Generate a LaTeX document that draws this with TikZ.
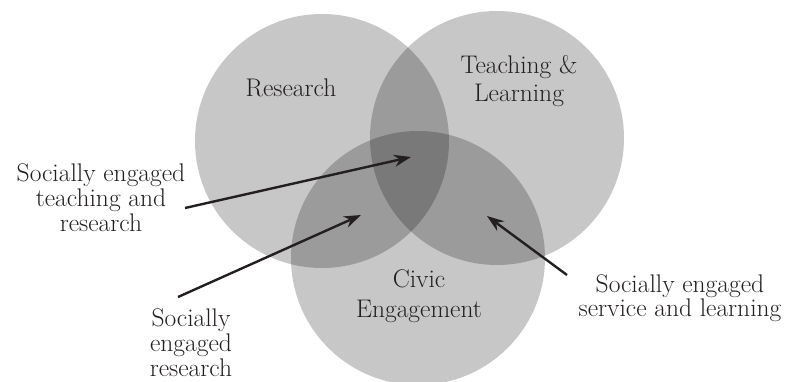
\documentclass[tikz,border=0pt]{standalone}
\usetikzlibrary{arrows.meta}
\definecolor{ink}{HTML}{231F20}
\begin{document}
\begin{tikzpicture}[x=1pt,y=-1pt,
  venn/.style={fill=black,fill opacity=0.22,draw=none},
  lbl/.style={align=center,text=ink,inner sep=0pt},
  sk/.style={font=\fontsize{25.5}{#1}\selectfont},
  ptr/.style={line width=2.4pt,draw=ink,-{Stealth[length=17pt,width=12pt]}}]
\useasboundingbox (0,0) rectangle (788,381);
\fill[venn] (322,141) circle (127);
\fill[venn] (497,138) circle (127);
\fill[venn] (418,258) circle (127);
\node[lbl,sk=28] (res) at (291,88) {Research};
\node[lbl,sk=28.5] (tea) at (519,81) {Teaching \&\\Learning};
\node[lbl,sk=30] (civ) at (419,296) {Civic\\Engagement};
\node[lbl,sk=25] (ltr) at (101,198) {Socially engaged\\teaching and\\research};
\node[lbl,sk=25] (lr) at (191,343) {Socially\\engaged\\research};
\node[lbl,sk=22] (ssl) at (680,298) {Socially engaged\\service and learning};
\coordinate (t1) at (185,208);
\coordinate (h1) at (411,157);
\coordinate (t2) at (178,297);
\coordinate (h2) at (361,215);
\coordinate (t3) at (567,275);
\coordinate (h3) at (487,216);
\draw[ptr] (t1) -- (h1);
\draw[ptr] (t2) -- (h2);
\draw[ptr] (t3) -- (h3);
\end{tikzpicture}
\end{document}
